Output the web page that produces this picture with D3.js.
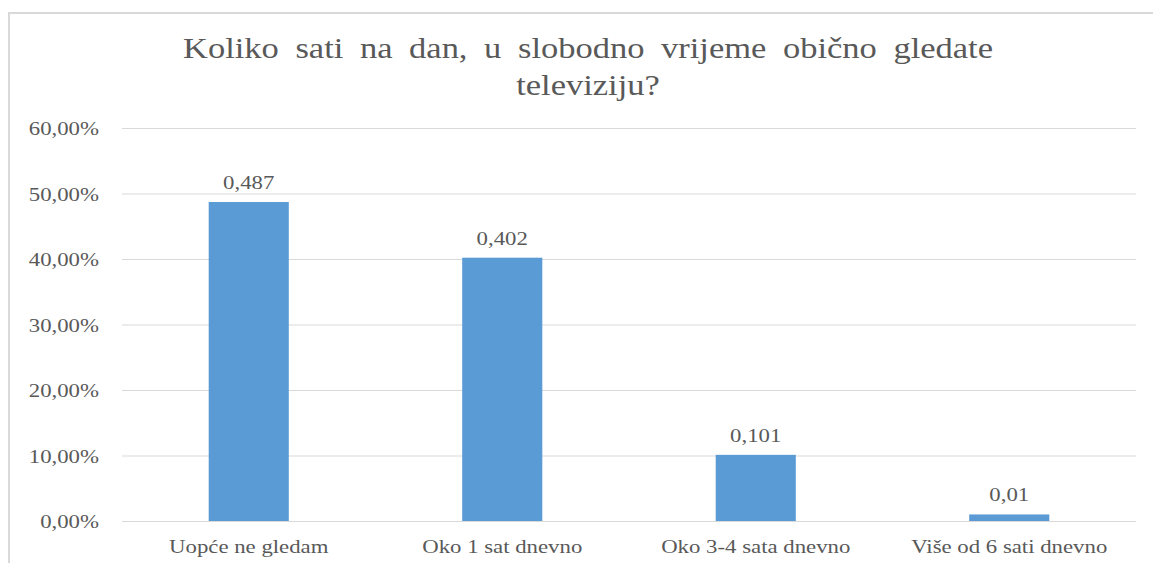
<!DOCTYPE html>
<html>
<head>
<meta charset="utf-8">
<script src="https://cdn.jsdelivr.net/npm/d3@7"></script>
<style>
  body { margin: 0; background: #fff; }
</style>
</head>
<body>
<svg id="chart" width="1153" height="563"></svg>
<script>
const categories = ["Uopće ne gledam", "Oko 1 sat dnevno", "Oko 3-4 sata dnevno", "Više od 6 sati dnevno"];
const values = [0.487, 0.402, 0.101, 0.01];
const valueLabels = ["0,487", "0,402", "0,101", "0,01"];
const yTicks = [0, 0.1, 0.2, 0.3, 0.4, 0.5, 0.6];
const titleLines = ["Koliko sati na dan, u slobodno vrijeme obično gledate", "televiziju?"];

const FONT = '"Liberation Serif"';
const TEXT = "#595959";
const STRETCH = 1.2; // source image is a bit wider than tall

const svg = d3.select("#chart");

// chart frame (only top and left edges show in the crop)
svg.append("line").attr("x1", 8).attr("x2", 1153).attr("y1", 13).attr("y2", 13).attr("stroke", "#d9d9d9").attr("stroke-width", 2);
svg.append("line").attr("x1", 9).attr("x2", 9).attr("y1", 12).attr("y2", 563).attr("stroke", "#d9d9d9").attr("stroke-width", 2);

const margin = { top: 128, right: 17, bottom: 42, left: 122 };
const width = 1153 - margin.left - margin.right;
const height = 563 - margin.top - margin.bottom;
const g = svg.append("g").attr("transform", `translate(${margin.left},${margin.top})`);

const x = d3.scaleBand().domain(categories).range([0, width]).padding(0);
const y = d3.scaleLinear().domain([0, 0.6]).range([height, 0]);
const barWidth = x.bandwidth() * 0.316;

const yAxis = g.append("g")
  .call(d3.axisLeft(y).tickValues(yTicks).tickSize(-width).tickFormat((v) => d3.format(".2f")(v * 100).replace(".", ",") + "%"))
  .attr("font-family", null)
  .attr("font-size", null);
yAxis.select(".domain").remove();
yAxis.selectAll("line").attr("stroke", "#d9d9d9").attr("stroke-width", 1);
yAxis.selectAll("text")
  .attr("x", 0)
  .attr("dy", "0.35em")
  .attr("transform", `translate(-23,0) scale(${STRETCH},1)`)
  .style("font-size", "19px")
  .style("font-family", FONT)
  .attr("fill", TEXT);

g.selectAll(".bar")
  .data(values)
  .join("rect")
  .attr("class", "bar")
  .attr("x", (d, i) => x(categories[i]) + (x.bandwidth() - barWidth) / 2)
  .attr("y", (d) => y(d))
  .attr("width", barWidth)
  .attr("height", (d) => height - y(d))
  .attr("fill", "#5b9bd5");

g.selectAll(".bar-value")
  .data(values)
  .join("text")
  .attr("class", "bar-value")
  .attr("transform", (d, i) => `translate(${x(categories[i]) + x.bandwidth() / 2},${y(d) - 13}) scale(${STRETCH},1)`)
  .attr("text-anchor", "middle")
  .attr("fill", TEXT)
  .style("font-family", FONT)
  .style("font-size", "19px")
  .text((d, i) => valueLabels[i]);

g.selectAll(".cat")
  .data(categories)
  .join("text")
  .attr("class", "cat")
  .attr("transform", (d) => `translate(${x(d) + x.bandwidth() / 2},${height + 32}) scale(${STRETCH},1)`)
  .attr("text-anchor", "middle")
  .attr("fill", TEXT)
  .style("font-family", FONT)
  .style("font-size", "19px")
  .text((d) => d);

const title = svg.selectAll(".title")
  .data(titleLines)
  .join("text")
  .attr("class", "title")
  .attr("transform", (d, i) => `translate(588,${58 + i * 37}) scale(1.15,1)`)
  .attr("text-anchor", "middle")
  .attr("fill", TEXT)
  .style("font-family", FONT)
  .style("font-size", "30px")
  .text((d) => d);

// first title line is spread out wider in the source, widen its word gaps
const first = title.filter((d, i) => i === 0);
const natural = first.node().getComputedTextLength();
const gaps = titleLines[0].split(" ").length - 1;
first.style("word-spacing", `${Math.max(0, (810 / 1.15 - natural) / gaps)}px`);
</script>
</body>
</html>
